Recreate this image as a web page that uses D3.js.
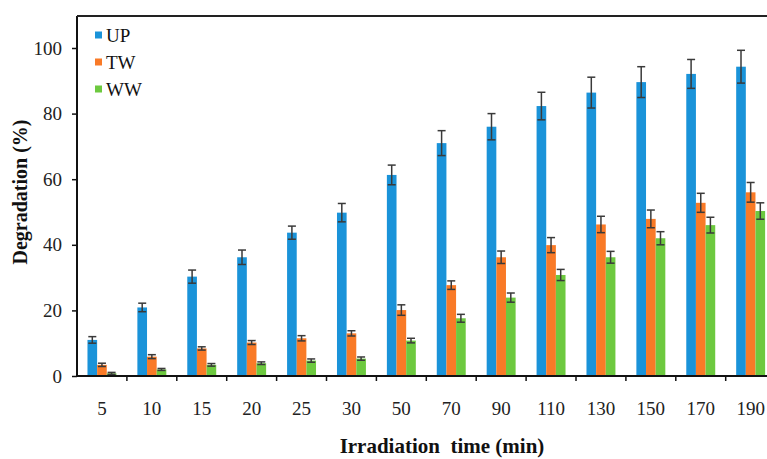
<!DOCTYPE html>
<html><head><meta charset="utf-8">
<script src="https://cdn.jsdelivr.net/npm/d3@7"></script>
<style>body{margin:0;background:#fff;} svg{display:block;}</style>
</head><body>
<script>
const categories = ["5","10","15","20","25","30","50","70","90","110","130","150","170","190"];
const seriesNames = ["UP","TW","WW"];
const upValues = [11.0,20.9,30.3,36.2,43.7,49.8,61.3,71.0,76.0,82.3,86.4,89.6,92.1,94.3];
const upErrors = [1.0,1.3,2.0,2.2,2.0,2.8,3.0,3.8,4.0,4.2,4.7,4.7,4.4,5.0];
const twValues = [3.4,5.9,8.4,10.2,11.5,13.0,20.1,27.7,36.2,39.9,46.2,47.9,52.8,56.0];
const twErrors = [0.5,0.6,0.5,0.6,0.8,0.8,1.6,1.3,1.9,2.3,2.5,2.7,2.9,3.0];
const wwValues = [0.8,2.0,3.4,3.9,4.7,5.3,10.8,17.6,23.9,30.8,36.2,42.0,46.0,50.3];
const wwErrors = [0.3,0.3,0.4,0.4,0.5,0.5,0.7,1.2,1.4,1.7,1.8,2.0,2.4,2.5];
const yTicks = [0,20,40,60,80,100];
const colors = ["#1a93d9","#f97a27","#6dc93f"];

(function(){
const W = 767, H = 459;
const mLeft = 77, mTop = 16, mBottom = 376, mRight = 775.6;
const svg = d3.select("body").append("svg").attr("width", W).attr("height", H);

const x0 = d3.scaleBand().domain(categories).range([mLeft, mRight]).padding(0);
const bw = x0.bandwidth();
const x1 = d3.scaleBand().domain(seriesNames).range([bw*0.21, bw*0.79]).padding(0);
const yv = d3.scaleLinear().domain([0,100]).range([mBottom, mBottom - 328]);

const data = [
  {name:"UP", values: upValues, errors: upErrors},
  {name:"TW", values: twValues, errors: twErrors},
  {name:"WW", values: wwValues, errors: wwErrors}
];

const font = "'Liberation Serif','Times New Roman',serif";

data.forEach((s, si) => {
  const g = svg.append("g");
  categories.forEach((c, i) => {
    const xb = x0(c) + x1(s.name);
    g.append("rect")
      .attr("x", xb).attr("width", x1.bandwidth())
      .attr("y", yv(s.values[i])).attr("height", mBottom - yv(s.values[i]))
      .attr("fill", colors[si]);
  });
});
data.forEach((s, si) => {
  const g = svg.append("g").attr("stroke", "#3a3a3a").attr("stroke-width", 1.5);
  categories.forEach((c, i) => {
    const cx = x0(c) + x1(s.name) + x1.bandwidth()/2;
    const hi = yv(s.values[i] + s.errors[i]);
    const lo = yv(Math.max(0, s.values[i] - s.errors[i]));
    const cw = 4;
    g.append("line").attr("x1", cx).attr("x2", cx).attr("y1", hi).attr("y2", lo);
    g.append("line").attr("x1", cx-cw).attr("x2", cx+cw).attr("y1", hi).attr("y2", hi);
    g.append("line").attr("x1", cx-cw).attr("x2", cx+cw).attr("y1", lo).attr("y2", lo);
  });
});

const yAxis = d3.axisLeft(yv).tickValues(yTicks).tickSize(5).tickPadding(10).tickFormat(d3.format("d"));
const gy = svg.append("g").attr("transform", `translate(${mLeft},0)`).call(yAxis);
gy.select(".domain").remove();
gy.selectAll(".tick line").attr("stroke", "#111").attr("stroke-width", 1.5);
gy.selectAll(".tick text").attr("font-family", font).attr("font-size", 19).attr("fill", "#222");
svg.append("line").attr("x1", mLeft).attr("x2", mLeft).attr("y1", mTop).attr("y2", mBottom+1)
  .attr("stroke", "#111").attr("stroke-width", 2);
svg.append("line").attr("x1", mLeft).attr("x2", W).attr("y1", mTop).attr("y2", mTop)
  .attr("stroke", "#222").attr("stroke-width", 2);

const xAxis = d3.axisBottom(x0).tickSize(0).tickPadding(26);
const gx = svg.append("g").attr("transform", `translate(0,${mBottom})`).call(xAxis);
gx.select(".domain").remove();
gx.selectAll(".tick text").attr("font-family", font).attr("font-size", 19).attr("fill", "#222");
svg.append("line").attr("x1", mLeft).attr("x2", W).attr("y1", mBottom).attr("y2", mBottom)
  .attr("stroke", "#111").attr("stroke-width", 2);
svg.append("g").selectAll("line").data(categories.slice(1)).join("line")
  .attr("x1", d => x0(d)).attr("x2", d => x0(d))
  .attr("y1", mBottom).attr("y2", mBottom + 5)
  .attr("stroke", "#111").attr("stroke-width", 1.5);

svg.append("text").attr("x", 442).attr("y", 453).attr("text-anchor", "middle")
  .attr("font-family", font).attr("font-size", 21).attr("font-weight", "bold")
  .attr("fill", "#111").style("white-space", "pre").text("Irradiation  time (min)");
svg.append("text").attr("transform", "translate(27,192) rotate(-90)").attr("text-anchor", "middle")
  .attr("font-family", font).attr("font-size", 20).attr("font-weight", "bold")
  .attr("fill", "#111").text("Degradation (%)");

const lg = svg.append("g");
seriesNames.forEach((n, i) => {
  const cy = 35 + i * 27;
  lg.append("rect").attr("x", 95).attr("y", cy - 3.5).attr("width", 7).attr("height", 7).attr("fill", colors[i]);
  lg.append("text").attr("x", 106).attr("y", cy + 7).attr("font-family", font).attr("font-size", 19)
    .attr("fill", "#111").text(n);
});
})();
</script>
</body></html>
